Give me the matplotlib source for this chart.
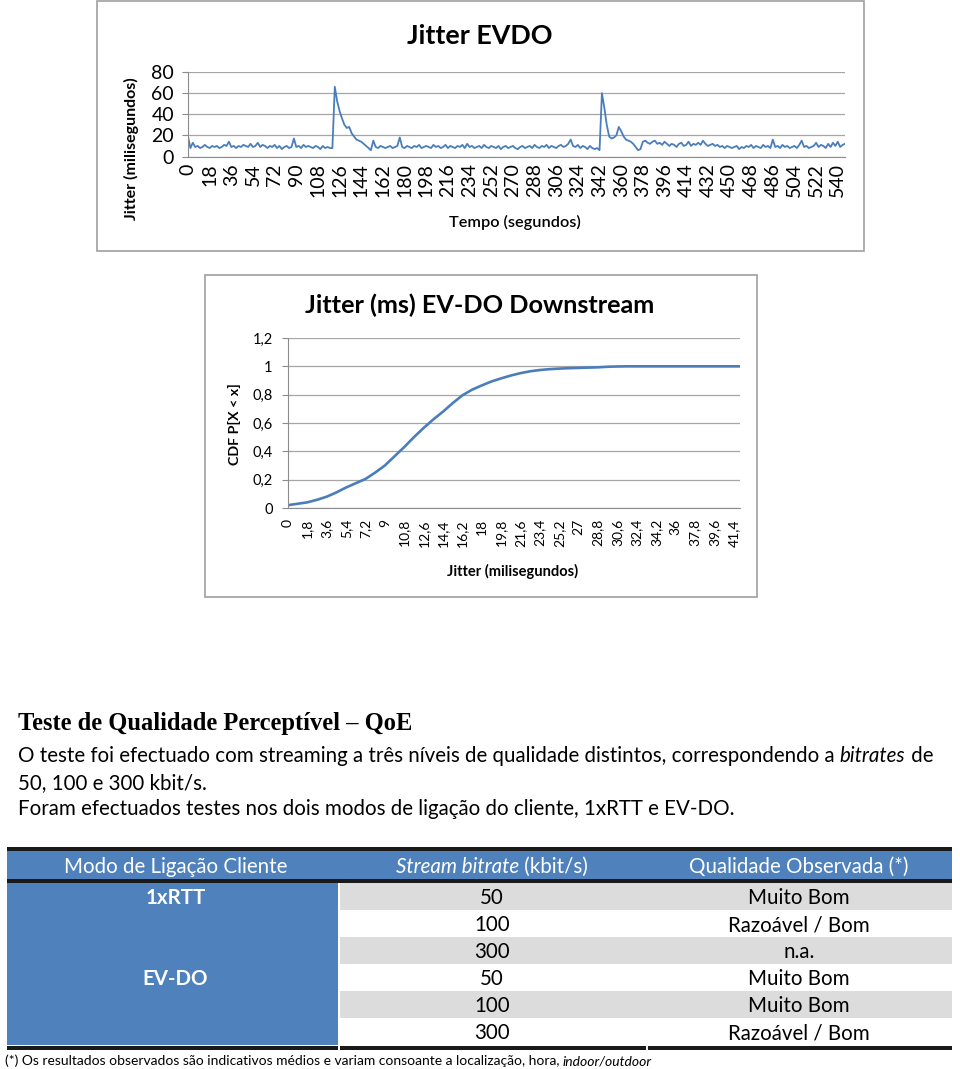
import numpy as np
import matplotlib
matplotlib.use("Agg")
import matplotlib.pyplot as plt
from matplotlib.patches import Rectangle

W, H = 960, 1069
SANS = ["Lato", "DejaVu Sans"]
SERIF = ["Liberation Serif", "DejaVu Serif"]
LINE = "#4A7EBB"
TBL_BLUE = "#4F81BD"
TBL_GRAY = "#DCDCDC"
GRID = "#A6A6A6"

# --- grafico 1: jitter EVDO (uma amostra a cada 2 s) ---
jitter_step = 2
jitter_ms = [
    19, 8, 13, 9, 10, 8, 9, 11, 9, 8, 10, 9, 10, 8, 9, 11, 10, 14, 9, 10,
    8, 10, 9, 11, 10, 9, 12, 9, 10, 13, 9, 11, 10, 8, 10, 9, 11, 8, 10, 7,
    9, 10, 8, 9, 17, 9, 10, 8, 11, 9, 10, 9, 8, 10, 9, 7, 10, 8, 9, 8,
    8, 66, 52, 43, 36, 30, 27, 28, 22, 19, 16, 15, 14, 12, 10, 8, 6, 15, 9, 8,
    10, 9, 8, 9, 10, 8, 9, 10, 18, 9, 8, 10, 9, 8, 10, 9, 11, 8, 9, 10,
    9, 8, 11, 9, 10, 8, 9, 11, 8, 10, 9, 8, 10, 9, 11, 8, 12, 9, 10, 8,
    9, 10, 8, 11, 9, 8, 10, 9, 8, 10, 7, 9, 10, 8, 9, 10, 8, 7, 9, 10,
    8, 9, 10, 8, 11, 9, 8, 10, 9, 11, 8, 10, 9, 8, 10, 11, 9, 10, 12, 16,
    10, 9, 11, 8, 10, 9, 7, 10, 8, 7, 8, 6, 60, 46, 30, 19, 17, 18, 20, 28,
    24, 19, 16, 15, 14, 12, 9, 6, 7, 14, 15, 13, 12, 14, 15, 12, 13, 11, 14, 12,
    10, 12, 11, 9, 12, 13, 10, 11, 14, 10, 12, 11, 13, 11, 15, 12, 10, 11, 12, 10,
    11, 9, 10, 8, 10, 9, 8, 9, 10, 7, 9, 8, 10, 9, 11, 8, 10, 9, 8, 11,
    9, 10, 8, 16, 9, 10, 8, 11, 9, 10, 8, 9, 10, 8, 11, 15, 9, 10, 8, 9,
    10, 13, 9, 11, 10, 8, 12, 9, 13, 10, 14, 9, 11, 12,
]
time_ticks = list(range(0, 541, 18))

# --- grafico 2: CDF do jitter ---
cdf_x = [0, 0.9, 1.8, 2.7, 3.6, 4.5, 5.4, 6.3, 7.2, 8.1,
         9.0, 9.9, 10.8, 11.7, 12.6, 13.5, 14.4, 15.3, 16.2, 17.1,
         18.0, 18.9, 19.8, 20.7, 21.6, 22.5, 23.4, 24.3, 25.2, 26.1,
         27.0, 27.9, 28.8, 29.7, 30.6, 31.5, 33.3, 36.0, 39.6, 42.0]
cdf_y = [0.02, 0.03, 0.04, 0.058, 0.08, 0.11, 0.145, 0.175, 0.205, 0.25,
         0.30, 0.365, 0.43, 0.50, 0.565, 0.625, 0.68, 0.74, 0.795, 0.835,
         0.865, 0.893, 0.915, 0.935, 0.952, 0.965, 0.974, 0.98, 0.984, 0.987,
         0.989, 0.991, 0.993, 0.997, 0.999, 1.0, 1.0, 1.0, 1.0, 1.0]
cdf_ticks = [round(i * 1.8, 1) for i in range(24)]

# --- texto e tabela ---
heading = "Teste de Qualidade Perceptível – QoE"
para_1 = [("O teste foi efectuado com streaming a três níveis de qualidade distintos, correspondendo a ", "normal"),
          ("bitrates", "italic"), (" de", "normal")]
para_2 = "50, 100 e 300 kbit/s."
para_3 = "Foram efectuados testes nos dois modos de ligação do cliente, 1xRTT e EV-DO."
modos = ["1xRTT", "EV-DO"]
bitrate = [50, 100, 300, 50, 100, 300]
qualidade = ["Muito Bom", "Razoável / Bom", "n.a.", "Muito Bom", "Muito Bom", "Razoável / Bom"]
nota = [("(*) Os resultados observados são indicativos médios e variam consoante a localização, hora, ", "normal"),
        ("indoor/outdoor", "italic")]


def fmt(v):
    return f"{v:g}".replace(".", ",")


fig = plt.figure(figsize=(W / 100, H / 100), dpi=100, facecolor="white")
page = fig.add_axes([0, 0, 1, 1])
page.set_xlim(0, W)
page.set_ylim(H, 0)
page.axis("off")
rend = fig.canvas.get_renderer()


def box(x0, y0, x1, y1):
    return [x0 / W, 1 - y1 / H, (x1 - x0) / W, (y1 - y0) / H]


def text_w(s, size, **kw):
    t = page.text(0, 0, s, fontsize=size, **kw)
    w = t.get_window_extent(rend).width
    t.remove()
    return w


def run_w(s, size, **kw):
    return text_w("|" + s + "|", size, **kw) - text_w("||", size, **kw)


def draw_runs(x, y, runs, size, ha="left", fit=None, color="black",
              family=SANS, weight="normal"):
    if isinstance(runs, str):
        runs = [(runs, "normal")]

    def widths(sz):
        return [run_w(s, sz, family=family, style=st, weight=weight) for s, st in runs]
    if fit:
        size = size * fit / sum(widths(size))
    ws = widths(size)
    if ha == "center":
        x -= sum(ws) / 2
    for (s, st), w in zip(runs, ws):
        page.text(x, y, s, fontsize=size, family=family, style=st,
                  weight=weight, color=color, va="baseline", ha="left")
        x += w
    return size


# ---------------- grafico 1 ----------------
page.add_patch(Rectangle((97, 1), 767, 250, fill=False, ec="#A0A0A0", lw=1.2))
ax1 = fig.add_axes(box(188, 72, 845, 156.5))
t = np.arange(len(jitter_ms)) * jitter_step
ax1.plot(t, jitter_ms, color=LINE, lw=1.3)
ax1.set_xlim(0, 546)
ax1.set_ylim(0, 80)
ax1.set_yticks(range(0, 81, 20))
ax1.set_xticks(time_ticks)
ax1.set_xticklabels([str(v) for v in time_ticks], rotation=90)
ax1.grid(axis="y", color=GRID, lw=0.9)
ax1.set_axisbelow(True)
for s in ("top", "right"):
    ax1.spines[s].set_visible(False)
for s in ("left", "bottom"):
    ax1.spines[s].set_color("#8C8C8C")
ax1.tick_params(axis="y", length=4, color="#8C8C8C", pad=6, labelsize=14)
ax1.tick_params(axis="x", length=0, pad=5, labelsize=14)
for lab in ax1.get_xticklabels() + ax1.get_yticklabels():
    lab.set_family(SANS)

draw_runs(480, 44, "Jitter EVDO", 20, ha="center", fit=146, weight="bold")
page.text(131, 149, "Jitter (milisegundos)", rotation=90, fontsize=11.5,
          family=SANS, weight="bold", ha="center", va="center")
draw_runs(515, 227, "Tempo (segundos)", 12, ha="center", fit=131, weight="semibold")

# ---------------- grafico 2 ----------------
page.add_patch(Rectangle((205, 275), 552, 322, fill=False, ec="#A0A0A0", lw=1.2))
ax2 = fig.add_axes(box(288, 338, 740, 508))
ax2.plot(cdf_x, cdf_y, color=LINE, lw=1.9)
ax2.set_xlim(0, 42.0)
ax2.set_ylim(0, 1.2)
yt = [0, 0.2, 0.4, 0.6, 0.8, 1.0, 1.2]
ax2.set_yticks(yt)
ax2.set_yticklabels([fmt(v) for v in yt])
ax2.set_xticks(cdf_ticks)
ax2.set_xticklabels([fmt(v) for v in cdf_ticks], rotation=90)
ax2.grid(axis="y", color=GRID, lw=0.9)
ax2.set_axisbelow(True)
for s in ("top", "right"):
    ax2.spines[s].set_visible(False)
for s in ("left", "bottom"):
    ax2.spines[s].set_color("#8C8C8C")
ax2.tick_params(axis="y", length=4, color="#8C8C8C", pad=7, labelsize=10.5)
ax2.tick_params(axis="x", length=0, pad=8, labelsize=10)
for lab in ax2.get_xticklabels() + ax2.get_yticklabels():
    lab.set_family(SANS)

draw_runs(480, 313, "Jitter (ms) EV-DO Downstream", 19, ha="center", fit=350, weight="bold")
page.text(234, 424, "CDF P[X < x]", rotation=90, fontsize=10.3,
          family=SANS, weight="bold", ha="center", va="center")
draw_runs(513, 576, "Jitter (milisegundos)", 11, ha="center", fit=130, weight="bold")

# ---------------- texto ----------------
draw_runs(18, 730, heading, 15, fit=396, family=SERIF, weight="bold")
fs = draw_runs(18, 762, para_1, 14, fit=919)
draw_runs(18, 789, para_2, fs)
draw_runs(18, 815, para_3, fs)

# ---------------- tabela ----------------
c1, c2, c3, c4 = 7, 338, 646, 952
page.add_patch(Rectangle((c1, 847), c4 - c1, 4, color="#1A1A1A", lw=0))
page.add_patch(Rectangle((c1, 851), c4 - c1, 28, color=TBL_BLUE, lw=0))
page.add_patch(Rectangle((c1, 879), c4 - c1, 4, color="#1A1A1A", lw=0))
row_h = 27
top = 883
for i in range(len(bitrate)):
    y0 = top + i * row_h
    page.add_patch(Rectangle((c2 + 2, y0), c4 - c2 - 2, row_h,
                             color=TBL_GRAY if i % 2 == 0 else "white", lw=0))
page.add_patch(Rectangle((c1, top), c2 - c1, row_h * len(bitrate), color=TBL_BLUE, lw=0))
bot = top + row_h * len(bitrate) + 1
for a, b in ((c1, c2), (c2 + 2, c3), (c3 + 2, c4)):
    page.add_patch(Rectangle((a, bot), b - a, 4, color="#1A1A1A", lw=0))

cx1, cx2, cx3 = (c1 + c2) / 2 + 3, (c2 + c3) / 2, (c3 + c4) / 2
hb = 873
draw_runs(cx1, hb, "Modo de Ligação Cliente", fs, ha="center", color="white")
draw_runs(cx2, hb, [("Stream bitrate", "italic"), (" (kbit/s)", "normal")], fs,
          ha="center", color="white")
draw_runs(cx3, hb, "Qualidade Observada (*)", fs, ha="center", color="white")
for i, (br, q) in enumerate(zip(bitrate, qualidade)):
    yb = top + i * row_h + 21
    draw_runs(cx2, yb, str(br), fs, ha="center")
    draw_runs(cx3, yb, q, fs, ha="center")
for k, m in enumerate(modos):
    yb = top + 3 * k * row_h + 21
    draw_runs(cx1, yb, m, fs, ha="center", color="white", weight="bold")

draw_runs(5, 1065, nota, 11, fit=645)

fig.savefig("out.png", dpi=100, facecolor="white")
